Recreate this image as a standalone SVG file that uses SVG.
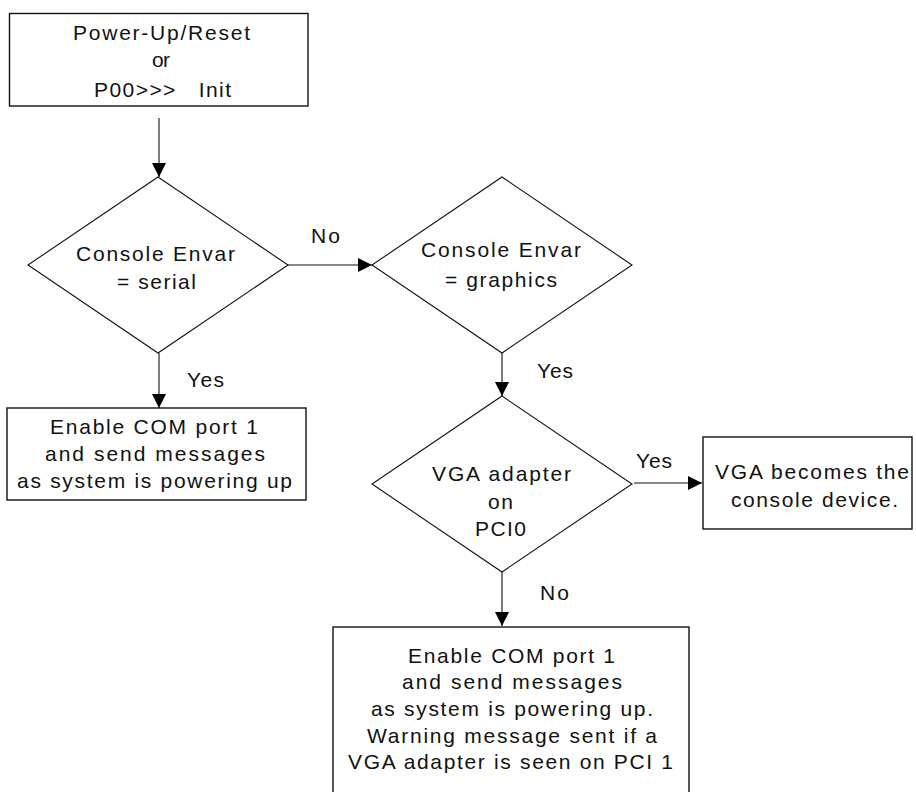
<svg xmlns="http://www.w3.org/2000/svg" width="916" height="792" viewBox="0 0 916 792">
<style>
text { font-family: "Liberation Sans Narrow", "Liberation Sans", Arial, sans-serif; font-size: 21px; fill: #111; }
.box { fill: #fff; stroke: #111; stroke-width: 1.4; }
.dia { fill: #fff; stroke: #111; stroke-width: 1.1; }
.con { fill: none; stroke: #111; stroke-width: 1.1; }
</style>
<defs>
<marker id="ah" markerUnits="userSpaceOnUse" markerWidth="15" markerHeight="15" refX="14" refY="7" orient="auto">
<path d="M0,0 L14,7 L0,14 Z" fill="#000"/>
</marker>
</defs>
<rect width="916" height="792" fill="#fff"/>

<g id="start">
<rect class="box" x="9.5" y="13.5" width="298.5" height="92.5"/>
<text x="73" y="40" textLength="177" lengthAdjust="spacing">Power-Up/Reset</text>
<text x="152" y="67" textLength="18" lengthAdjust="spacing">or</text>
<text x="94" y="97" textLength="137" lengthAdjust="spacing" xml:space="preserve" style="white-space:pre">P00&gt;&gt;&gt;   Init</text>
</g>

<g id="dec-serial">
<polygon class="dia" points="158,177 288,265 158,353 28,265"/>
<text x="76" y="261" textLength="159" lengthAdjust="spacing">Console Envar</text>
<text x="117" y="289" textLength="79" lengthAdjust="spacing">= serial</text>
</g>

<g id="com1-serial">
<rect class="box" x="7" y="408" width="299" height="92"/>
<text x="50" y="434" textLength="208" lengthAdjust="spacing">Enable COM port 1</text>
<text x="45" y="461" textLength="220" lengthAdjust="spacing">and send messages</text>
<text x="17" y="488" textLength="275" lengthAdjust="spacing">as system is powering up</text>
</g>

<g id="dec-graphics">
<polygon class="dia" points="502,177 632,265 502,353 372,265"/>
<text x="421" y="257" textLength="160" lengthAdjust="spacing">Console Envar</text>
<text x="445" y="287" textLength="112" lengthAdjust="spacing">= graphics</text>
</g>

<g id="dec-vga">
<polygon class="dia" points="502,396 632,484 502,572 372,484"/>
<text x="432" y="481" textLength="139" lengthAdjust="spacing">VGA adapter</text>
<text x="488" y="509" textLength="25" lengthAdjust="spacing">on</text>
<text x="475" y="536" textLength="51" lengthAdjust="spacing">PCI0</text>
</g>

<g id="vga-console">
<rect class="box" x="703" y="437" width="209" height="92"/>
<text x="715" y="479" textLength="194" lengthAdjust="spacing">VGA becomes the</text>
<text x="731" y="507" textLength="167" lengthAdjust="spacing">console device.</text>
</g>

<g id="com1-warning">
<rect class="box" x="333" y="627" width="356" height="170"/>
<text x="408" y="663" textLength="207" lengthAdjust="spacing">Enable COM port 1</text>
<text x="402" y="689" textLength="220" lengthAdjust="spacing">and send messages</text>
<text x="371" y="716" textLength="282" lengthAdjust="spacing">as system is powering up.</text>
<text x="367" y="743" textLength="290" lengthAdjust="spacing">Warning message sent if a</text>
<text x="348" y="769" textLength="325" lengthAdjust="spacing">VGA adapter is seen on PCI 1</text>
</g>

<g id="connectors">
<path class="con" d="M159,118 V177" marker-end="url(#ah)"/>
<path class="con" d="M159,353 V408" marker-end="url(#ah)"/>
<path class="con" d="M288,265 H372" marker-end="url(#ah)"/>
<path class="con" d="M502,353 V396" marker-end="url(#ah)"/>
<path class="con" d="M634,483 H702" marker-end="url(#ah)"/>
<path class="con" d="M502,572 V626" marker-end="url(#ah)"/>
<text x="311" y="243" textLength="29" lengthAdjust="spacing">No</text>
<text x="187" y="387" textLength="37" lengthAdjust="spacing">Yes</text>
<text x="537" y="378" textLength="36" lengthAdjust="spacing">Yes</text>
<text x="636" y="468" textLength="36" lengthAdjust="spacing">Yes</text>
<text x="540" y="600" textLength="29" lengthAdjust="spacing">No</text>
</g>
</svg>
